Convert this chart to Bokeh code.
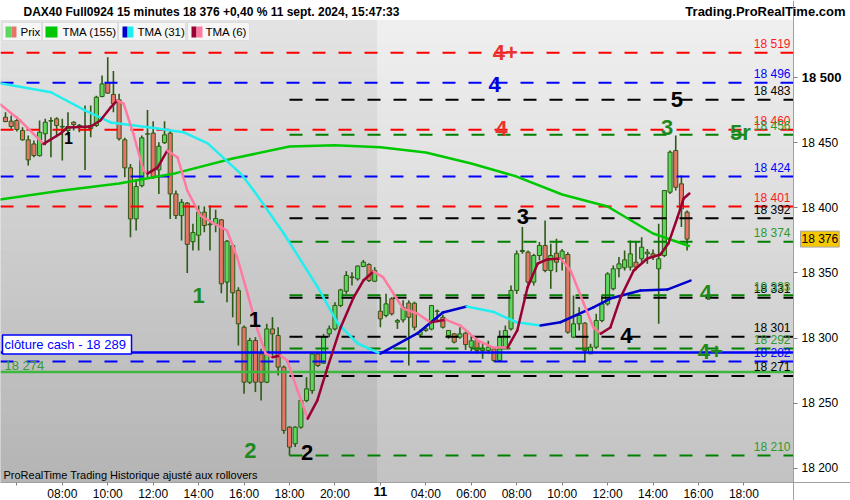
import numpy as np
from bokeh.plotting import figure
from bokeh.models import Range1d, FixedTicker, Label, BoxAnnotation, LinearAxis
from bokeh.embed import file_html
from bokeh.resources import INLINE

FONT = "Liberation Sans"

# bougies 15 minutes, index de barre 0..120 (10 sept. 05:30 -> 11 sept. 15:45)
opens = [
    18469.5, 18466.5, 18467.0, 18459.3, 18452.2, 18449.0, 18440.0, 18456.8, 18466.5, 18468.3,
    18462.0, 18459.3, 18465.7, 18463.0, 18461.8, 18460.8, 18463.2, 18485.4, 18495.9, 18487.0,
    18482.9, 18452.2, 18430.7, 18391.5, 18417.0, 18456.5, 18457.3, 18429.1, 18450.0, 18457.3,
    18410.7, 18394.0, 18403.6, 18374.0, 18379.0, 18396.7, 18387.0, 18387.7, 18390.8, 18343.0,
    18371.0, 18336.6, 18308.4, 18266.2, 18298.2, 18288.0, 18266.2, 18307.1, 18302.0, 18277.8,
    18231.7, 18219.0, 18231.7, 18252.2, 18259.8, 18287.9, 18280.8, 18303.3, 18307.1, 18325.1,
    18336.0, 18346.5, 18345.5, 18355.0, 18356.5, 18343.7,
    18320.7, 18317.4, 18330.2, 18312.3, 18314.0, 18327.0, 18326.8, 18302.5, 18305.9, 18307.0,
    18320.5, 18316.0, 18302.0, 18303.3, 18300.8, 18303.8, 18293.0, 18298.2, 18290.5, 18290.5,
    18291.8, 18282.9, 18293.1, 18307.1, 18336.6, 18366.5, 18366.0, 18343.0, 18363.4, 18371.1,
    18351.9, 18365.2, 18360.9, 18364.2, 18300.8, 18311.0, 18311.5, 18288.0, 18293.1, 18313.5,
    18326.3, 18337.9, 18353.2, 18354.0, 18354.5, 18358.3, 18360.9, 18364.7, 18364.7, 18353.2,
    18363.4, 18412.0, 18444.0, 18418.4, 18396.7]
highs = [
    18473.4, 18470.8, 18470.0, 18461.8, 18455.5, 18451.6, 18467.0, 18468.3, 18469.5, 18469.5,
    18468.3, 18473.4, 18466.5, 18464.4, 18478.5, 18478.5, 18486.0, 18501.5, 18515.6, 18505.0,
    18487.5, 18453.7, 18433.7, 18422.2, 18455.5, 18475.0, 18466.5, 18450.3, 18466.5, 18459.3,
    18413.3, 18406.8, 18404.4, 18387.7, 18401.8, 18401.0, 18401.8, 18398.5, 18391.5, 18375.4,
    18372.4, 18339.0, 18309.7, 18300.3, 18300.8, 18291.8, 18311.0, 18316.1, 18308.4, 18279.0,
    18232.5, 18232.5, 18253.5, 18270.1, 18289.2, 18289.2, 18303.3, 18309.7, 18327.6, 18337.9,
    18351.4, 18350.6, 18355.8, 18360.0, 18357.5, 18354.5,
    18331.5, 18334.0, 18331.5, 18314.8, 18329.0, 18329.0, 18328.0, 18306.5, 18308.4, 18325.5,
    18322.0, 18318.0, 18306.0, 18304.0, 18308.4, 18305.0, 18302.0, 18299.5, 18295.7, 18298.0,
    18293.0, 18305.9, 18309.7, 18340.4, 18367.3, 18385.2, 18367.3, 18364.7, 18373.7, 18390.3,
    18372.4, 18376.2, 18368.5, 18366.0, 18332.7, 18323.8, 18312.3, 18295.7, 18318.7, 18332.7,
    18350.6, 18355.8, 18362.2, 18367.3, 18374.9, 18373.7, 18377.5, 18368.5, 18368.0, 18387.7,
    18413.3, 18444.0, 18455.5, 18424.8, 18398.0]
lows = [
    18465.7, 18460.6, 18458.5, 18451.5, 18432.5, 18438.9, 18439.4, 18448.0, 18438.9, 18454.2,
    18436.3, 18455.5, 18459.3, 18458.0, 18429.1, 18454.2, 18462.0, 18484.9, 18487.5, 18473.4,
    18451.7, 18423.5, 18377.5, 18382.6, 18415.8, 18423.5, 18422.2, 18410.7, 18449.0, 18391.5,
    18391.5, 18375.0, 18350.0, 18367.2, 18367.2, 18381.3, 18367.2, 18381.3, 18334.5, 18327.6,
    18316.0, 18294.4, 18257.3, 18264.9, 18258.6, 18252.2, 18265.5, 18285.4, 18271.4, 18226.6,
    18210.0, 18216.4, 18230.4, 18250.9, 18257.3, 18277.8, 18280.3, 18300.8, 18305.9, 18323.8,
    18334.0, 18340.4, 18344.2, 18354.5, 18343.0, 18343.0,
    18308.4, 18316.1, 18317.4, 18307.1, 18312.0, 18279.0, 18306.0, 18301.0, 18305.0, 18306.0,
    18312.3, 18307.5, 18299.5, 18296.0, 18299.5, 18291.0, 18290.0, 18288.0, 18284.2, 18288.0,
    18281.6, 18281.6, 18291.8, 18305.9, 18334.0, 18364.7, 18339.1, 18340.4, 18359.6, 18350.6,
    18337.9, 18350.6, 18351.9, 18303.3, 18300.0, 18305.9, 18281.6, 18288.0, 18291.8, 18312.3,
    18325.0, 18336.6, 18346.8, 18351.9, 18351.9, 18352.0, 18358.3, 18357.0, 18360.0, 18311.0,
    18362.2, 18410.7, 18413.3, 18385.2, 18367.2]
closes = [
    18466.2, 18462.4, 18460.1, 18452.2, 18436.8, 18440.1, 18458.0, 18465.7, 18467.0, 18463.2,
    18462.5, 18462.4, 18464.0, 18463.3, 18462.4, 18463.2, 18484.9, 18495.1, 18488.0, 18479.8,
    18453.0, 18430.7, 18391.5, 18416.4, 18453.7, 18456.8, 18424.0, 18447.3, 18456.0, 18410.7,
    18394.1, 18404.3, 18372.0, 18381.0, 18396.7, 18386.4, 18387.5, 18391.8, 18341.7, 18374.4,
    18334.8, 18311.0, 18266.2, 18298.2, 18266.2, 18266.2, 18307.1, 18303.3, 18277.8, 18229.2,
    18216.4, 18231.7, 18252.2, 18261.1, 18287.9, 18279.0, 18300.8, 18307.1, 18325.1, 18337.0,
    18348.1, 18347.0, 18355.3, 18358.3, 18344.2, 18352.0,
    18314.8, 18326.3, 18318.7, 18313.5, 18323.5, 18316.0, 18308.4, 18305.0, 18307.1, 18325.0,
    18320.8, 18308.4, 18305.9, 18297.0, 18303.3, 18295.1, 18298.0, 18290.5, 18292.0, 18293.1,
    18282.9, 18300.8, 18305.9, 18336.6, 18364.7, 18367.3, 18343.0, 18363.4, 18371.1, 18351.9,
    18363.4, 18358.3, 18366.8, 18304.6, 18311.0, 18317.4, 18290.5, 18293.1, 18313.5, 18326.3,
    18349.3, 18353.2, 18357.0, 18360.1, 18364.7, 18354.5, 18369.8, 18366.0, 18362.2, 18360.9,
    18413.3, 18442.7, 18415.8, 18399.2, 18376.0]

# moyennes mobiles (index de barre, valeur)
tma155_bar = [-1, 10, 20, 30, 40, 50, 58, 66, 74, 82, 90, 98, 106, 114, 120.5]
tma155_val = [18406.4, 18413.3, 18418.6, 18426.6, 18437.8, 18447.0, 18448.0, 18446.5,
              18442.5, 18434.0, 18424.0, 18410.2, 18401.0, 18380.3, 18370.5]

tma31_bar = [-1, 8, 14, 18.5, 25.5, 31.3, 35.6, 41.4, 43.7, 49, 55, 58.5, 62, 66, 72.5,
             77, 81.2, 86, 90, 94.2, 97.7, 103.5, 106.5, 111.8, 116.5, 120.6]
tma31_val = [18495.6, 18488.7, 18474.7, 18465.5, 18461.6, 18458.0, 18449.4, 18426.3,
             18413.3, 18380.3, 18338.9, 18311.3, 18295.9, 18288.2, 18303.6, 18319.7,
             18324.3, 18320.0, 18312.2, 18309.7, 18312.2, 18323.7, 18330.4, 18336.6,
             18337.3, 18344.2]

tma6_bar = [-0.9, 2.6, 6.7, 9.7, 10.9, 15, 16.7, 18.5, 19.7, 20.8, 22.5, 24.3, 25, 26.8,
            28.5, 30.3, 32, 34.3, 37, 39, 40.8, 42.6, 44.4, 45.8, 47, 48.4, 49.6, 51.4,
            53.2, 54.9, 56.7, 59, 61.3, 63, 64.8, 66.5, 68.3, 70, 72.5, 74.8, 77.5, 80.1,
            83.1, 85.9, 88.4, 90.1, 91.9, 93.7, 95.4, 97.7, 99.5, 101.8, 103.5, 104.8,
            106.5, 108.3, 110.6, 113, 115.3, 116.7, 118.3, 119.4, 120.4]
tma6_val = [18479.3, 18467.0, 18449.1, 18457.0, 18461.6, 18462.4, 18467.0, 18477.0,
            18482.4, 18480.0, 18457.0, 18428.6, 18426.3, 18431.0, 18444.0, 18438.6,
            18413.3, 18394.1, 18387.2, 18382.6, 18361.9, 18334.3, 18305.9, 18288.2,
            18285.4, 18286.7, 18282.9, 18259.9, 18238.3, 18252.2, 18277.5, 18308.2,
            18331.3, 18344.2, 18351.2, 18346.6, 18334.3, 18322.7, 18318.9, 18312.1,
            18314.2, 18309.6, 18298.2, 18292.8, 18292.8, 18305.9, 18338.9, 18357.3,
            18360.4, 18361.1, 18351.9, 18326.6, 18308.2, 18303.5, 18308.2, 18331.3,
            18351.9, 18361.1, 18364.2, 18372.6, 18392.6, 18407.2, 18411.0]

# niveaux horizontaux
red_levels = [18519, 18460, 18401]
blue_levels = [18496, 18424, 18282]
black_levels = [18483, 18392, 18331, 18301, 18271]
green_levels = [18456, 18374, 18333, 18292, 18210]
levels_from_bar = 50          # niveaux noirs / verts tracés depuis le plus bas
cash_close = 18289
ref_level = 18274
last_price = 18376

# étiquettes de force : texte, barre, prix
tags_red = [("4+", 88.0, 18519), ("4", 87.3, 18461)]
tags_blue = [("4", 86.1, 18495)]
tags_black = [("5", 118.2, 18483), ("3", 91.1, 18393), ("1", 43.9, 18314),
              ("4", 109.3, 18302), ("2", 53.1, 18212)]
tags_green = [("3", 116.5, 18462), ("5r", 129.4, 18458), ("1", 34.0, 18333),
              ("2", 43.1, 18214), ("4", 123.3, 18335), ("4+", 124.1, 18290)]

# axe du temps
tick_bars = [2, 10, 18, 26, 34, 42, 50, 58, 66, 74, 82, 90, 98, 106, 114, 122, 130]
tick_text = ["", "08:00", "10:00", "12:00", "14:00", "16:00", "18:00", "20:00", "11",
             "04:00", "06:00", "08:00", "10:00", "12:00", "14:00", "16:00", "18:00"]
price_ticks = [18200, 18250, 18300, 18350, 18400, 18450, 18500]


def X(px):   # position horizontale (pixels de la capture) -> index de barre
    return (px - 5) / 5.68


def Y(py):   # position verticale (pixels de la capture) -> prix
    return 18500 - (py - 77) / 1.3033


def fmt(v):
    return f"{v:,.0f}".replace(",", " ")


# zone du graphique (le reste du cadre sert d'en-tête et d'échelle de prix)
X0, XB, X1 = X(0), X(793), X(850)
YB, YT = Y(482), Y(20)
Y0, Y1 = Y(500), Y(0)

p = figure(width=850, height=500, output_backend="svg", toolbar_location=None,
           x_range=Range1d(X0, X1), y_range=Range1d(Y0, Y1),
           x_axis_location=None, y_axis_location=None, min_border=0)
p.grid.visible = False
p.background_fill_color = "white"
p.border_fill_color = "white"
p.outline_line_color = None


# fond en dégradé (deux séances)
def mix(c1, c2, t):
    a = [int(c1[i:i + 2], 16) for i in (1, 3, 5)]
    b = [int(c2[i:i + 2], 16) for i in (1, 3, 5)]
    return "#%02x%02x%02x" % tuple(int(round(a[k] + (b[k] - a[k]) * t)) for k in range(3))


n = 40
ys = np.linspace(YT, YB, n + 1)
for left, right, ctop, cbot in [(X0, 65.5, "#e4e4e4", "#b4b4b4"),
                                (65.5, XB, "#f0f0f0", "#c2c2c2")]:
    cols = [mix(ctop, cbot, (k + 0.5) / n) for k in range(n)]
    p.quad(left=left, right=right, top=ys[:-1], bottom=ys[1:], fill_color=cols,
           line_color=cols, line_width=1)

# bougies
o = np.array(opens); h = np.array(highs); l = np.array(lows); c = np.array(closes)
bars = np.arange(len(o))
up = c >= o
WICK = "#2d5a14"
p.segment(bars, h, bars, l, color=WICK, line_width=1.6)
p.vbar(bars[up], 0.72, c[up], o[up], fill_color="#5cd65c", line_color=WICK, line_width=1)
p.vbar(bars[~up], 0.72, o[~up], c[~up], fill_color="#e87468", line_color=WICK, line_width=1)

# niveaux
for vals, col, start in [(red_levels, "#ff0000", X0), (blue_levels, "#0000ff", X0),
                         (black_levels, "#000000", levels_from_bar),
                         (green_levels, "#008000", levels_from_bar)]:
    p.segment(start, vals, XB, vals, color=col, line_width=2, line_dash="13 13")
p.segment(X0, cash_close, XB, cash_close, color="#0000ff", line_width=2.5)
p.segment(X0, ref_level, XB, ref_level, color="#3cb83c", line_width=2.5)


# moyennes mobiles
def ma(xs, vs, col_up, col_dn):
    cols = [col_up if b > a else col_dn for a, b in zip(vs[:-1], vs[1:])]
    p.segment(xs[:-1], vs[:-1], xs[1:], vs[1:], color=cols, line_width=2.5, line_cap="round")


p.line(tma155_bar, tma155_val, color="#00c800", line_width=2.5)
ma(tma31_bar, tma31_val, "#0000cc", "#22eef0")
ma(tma6_bar, tma6_val, "#990033", "#ff7aa0")


def lab(x, y, text, color="#000000", size=12, bold=False, align="left", base="middle", **kw):
    p.add_layout(Label(x=x, y=y, text=text, text_color=color, text_font=FONT,
                       text_font_size=f"{size}px", text_font_style="bold" if bold else "normal",
                       text_align=align, text_baseline=base, **kw))


# étiquettes des niveaux à droite
for vals, col in [(red_levels, "#ff1a1a"), (blue_levels, "#0000ff"),
                  (black_levels, "#000000"), (green_levels, "#2e9a2e")]:
    for v in vals:
        lab(X(790), v + 1.2, fmt(v), col, 12, align="right", base="bottom")

# étiquettes de force
for tags, col in [(tags_red, "#e8332e"), (tags_blue, "#0000dd"),
                  (tags_black, "#000000"), (tags_green, "#1e8a1e")]:
    for t, b, v in tags:
        lab(b, v, t, col, 22, bold=True, align="center")
lab(X(68), Y(137), "1", "#000000", 16, bold=True, align="center")

# étiquettes à gauche
lab(X(2), Y(344), "clôture cash -  18 289", "#0000ff", 13,
    background_fill_color="white", border_line_color="#0000ff", border_line_width=1.5,
    padding=2)
lab(X(4), Y(365), fmt(ref_level), "#3a9a3a", 13)
lab(X(3), Y(474), "ProRealTime Trading  Historique ajusté aux rollovers", "#000000", 11)

# légende
for a, b in [(2, 41), (42, 117), (118, 185), (187, 249)]:
    p.add_layout(BoxAnnotation(left=X(a), right=X(b), top=Y(22), bottom=Y(40),
                               fill_color="#f6f6f6", fill_alpha=1, line_color="#b8b8b8",
                               line_width=1))
for a, b, col in [(5, 11, "#5cd65c"), (11, 16, "#e87468"), (45, 57, "#00c800"),
                  (122, 127, "#0000cc"), (127, 133, "#22eef0"),
                  (191, 196, "#990033"), (196, 202, "#ff7aa0")]:
    p.add_layout(BoxAnnotation(left=X(a), right=X(b), top=Y(26), bottom=Y(37),
                               fill_color=col, fill_alpha=1, line_color=None))
for a, t in [(20, "Prix"), (62, "TMA (155)"), (137, "TMA (31)"), (205, "TMA (6)")]:
    lab(X(a), Y(31.5), t, "#000000", 11.5)

# en-tête
lab(X(23), Y(11), "DAX40 Full0924 15 minutes 18 376 +0,40 % 11 sept. 2024, 15:47:33",
    "#000000", 12, bold=True)
lab(X(845), Y(11), "Trading.ProRealTime.com", "#000000", 13, bold=True, align="right")

# axes
ax = LinearAxis(fixed_location=YB, ticker=FixedTicker(ticks=tick_bars))
ax.major_label_overrides = {b: ("" if t == "11" else t) for b, t in zip(tick_bars, tick_text)}
ay = LinearAxis(fixed_location=XB, ticker=FixedTicker(ticks=price_ticks))
ay.major_label_overrides = {v: ("" if v == 18500 else fmt(v)) for v in price_ticks}
for a in (ax, ay):
    a.axis_line_color = "#a0a0a0"
    a.major_tick_line_color = "#808080"
    a.major_tick_in = 0
    a.minor_tick_line_color = None
    a.major_label_text_font = FONT
    a.major_label_text_font_size = "12px"
    a.major_label_text_color = "#000000"
ax.major_tick_out = 3
ax.major_label_standoff = 1
ay.major_tick_out = 4
ay.major_label_standoff = 4
p.add_layout(ax, "below")
p.add_layout(ay, "right")
lab(66, Y(491), "11", "#000000", 13, bold=True, align="center")
lab(XB + 1.45, 18500, "18 500", "#000000", 13, bold=True)
lab(X(800), last_price, fmt(last_price), "#000000", 12, background_fill_color="#f7c800",
    border_line_color="#a8a8a8", padding=1)

open("out.html", "w").write(file_html(p, INLINE))
